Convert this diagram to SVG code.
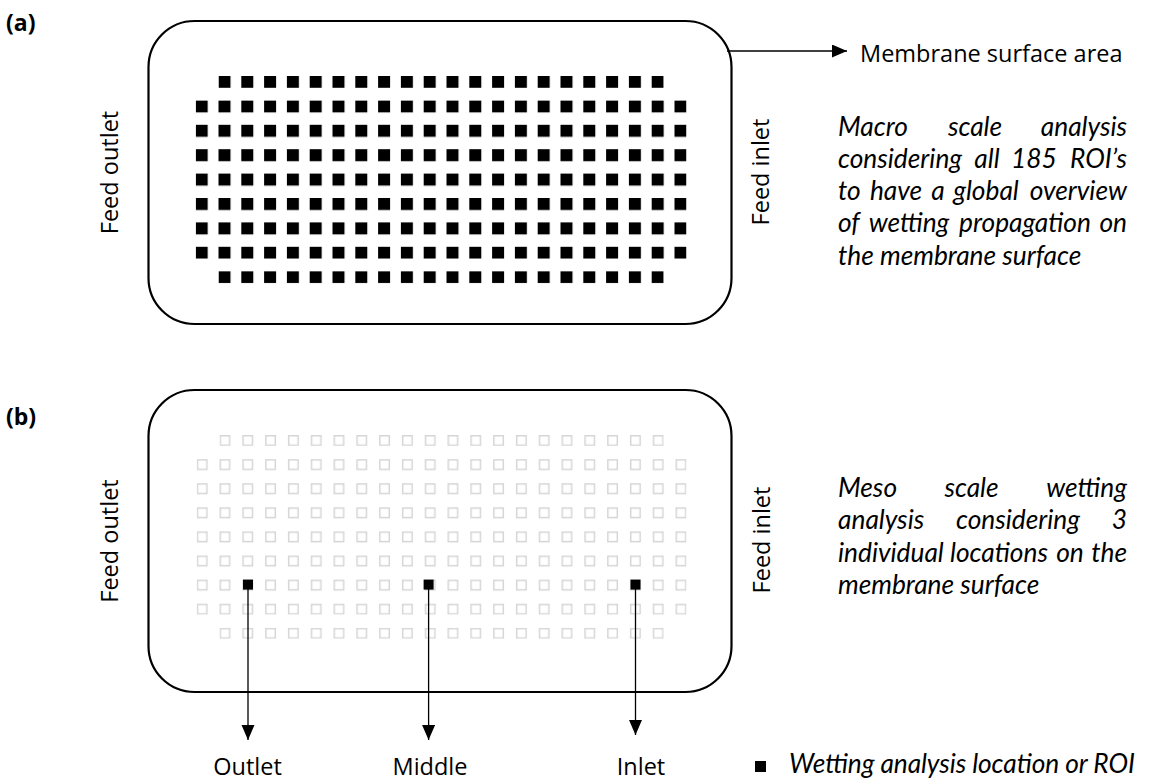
<svg xmlns="http://www.w3.org/2000/svg" width="1150" height="783" viewBox="0 0 1150 783">
  <style>
    .panel { fill: #ffffff; stroke: #000000; stroke-width: 2.2; }
    .lbl { font-family: "Open Sans", "Liberation Sans", sans-serif; font-size: 23.5px; fill: #000000; }
    .tag { font-family: "Open Sans", "Liberation Sans", sans-serif; font-size: 23px; font-weight: bold; fill: #000000; }
    .it { font-family: Lato, "Open Sans", "Liberation Sans", sans-serif; font-size: 26.3px; font-style: italic; fill: #000000; }
    .conn { stroke: #000000; stroke-width: 1.3; fill: none; }
  </style>
  <defs>
    <marker id="arrow" markerUnits="userSpaceOnUse" markerWidth="16" markerHeight="14" refX="15" refY="6.5" orient="auto">
      <path d="M0,0 L15,6.5 L0,13 z" fill="#000000"/>
    </marker>
    <pattern id="roiA" patternUnits="userSpaceOnUse" x="195.7" y="76" width="22.8" height="24.4">
      <rect x="0" y="0" width="12" height="12" fill="#000000"/>
    </pattern>
    <pattern id="roiB" patternUnits="userSpaceOnUse" x="196.7" y="435" width="22.8" height="24.1">
      <rect x="0.75" y="0.75" width="9.5" height="9.5" fill="none" stroke="#d6d6d6" stroke-width="1.5"/>
    </pattern>
  </defs>

  <rect width="1150" height="783" fill="#ffffff"/>

  <!-- Panel (a) -->
  <g id="label-a"><text class="tag" x="6" y="31">(a)</text></g>
  <g id="membrane-a">
    <rect class="panel" x="148.5" y="21" width="583" height="303" rx="46" ry="46"/>
  </g>
  <g id="roi-grid-a">
    <rect x="218.5" y="76" width="445.2" height="12" fill="url(#roiA)"/>
    <rect x="195.7" y="100.4" width="490.8" height="158.4" fill="url(#roiA)"/>
    <rect x="218.5" y="271.2" width="445.2" height="12" fill="url(#roiA)"/>
  </g>
  <g id="feed-outlet-a"><text class="lbl" text-anchor="middle" transform="translate(118,172.5) rotate(-90)">Feed outlet</text></g>
  <g id="feed-inlet-a"><text class="lbl" text-anchor="middle" transform="translate(769,172) rotate(-90)">Feed inlet</text></g>
  <g id="membrane-label"><text class="lbl" x="860" y="61.5">Membrane surface area</text></g>
  <g id="macro-text" class="it">
    <text x="838" y="135.5">Macro</text>
    <text x="975" y="135.5" text-anchor="middle">scale</text>
    <text x="1127" y="135.5" text-anchor="end">analysis</text>
    <text x="838" y="167.8">considering</text>
    <text x="987" y="167.8" text-anchor="middle">all</text>
    <text x="1034" y="167.8" text-anchor="middle">185</text>
    <text x="1127" y="167.8" text-anchor="end">ROI’s</text>
    <text x="838" y="200">to</text>
    <text x="896" y="200" text-anchor="middle">have</text>
    <text x="938" y="200" text-anchor="middle">a</text>
    <text x="986" y="200" text-anchor="middle">global</text>
    <text x="1127" y="200" text-anchor="end">overview</text>
    <text x="838" y="232.4">of</text>
    <text x="909" y="232.4" text-anchor="middle">wetting</text>
    <text x="1025" y="232.4" text-anchor="middle">propagation</text>
    <text x="1127" y="232.4" text-anchor="end">on</text>
    <text x="838" y="264.7">the membrane surface</text>
  </g>

  <!-- Panel (b) -->
  <g id="label-b"><text class="tag" x="6" y="425">(b)</text></g>
  <g id="membrane-b">
    <rect class="panel" x="148.5" y="390" width="583" height="302" rx="46" ry="46"/>
  </g>
  <g id="roi-grid-b">
    <rect x="219.5" y="435" width="444.2" height="11" fill="url(#roiB)"/>
    <rect x="196.7" y="459.1" width="489.8" height="155.6" fill="url(#roiB)"/>
    <rect x="219.5" y="627.8" width="444.2" height="11" fill="url(#roiB)"/>
  </g>
  <g id="roi-outlet"><rect x="243" y="579.6" width="10" height="10" fill="#000000"/></g>
  <g id="roi-middle"><rect x="423.6" y="579.6" width="10" height="10" fill="#000000"/></g>
  <g id="roi-inlet"><rect x="630.5" y="579.6" width="10" height="10" fill="#000000"/></g>
  <g id="feed-outlet-b"><text class="lbl" text-anchor="middle" transform="translate(118,541) rotate(-90)">Feed outlet</text></g>
  <g id="feed-inlet-b"><text class="lbl" text-anchor="middle" transform="translate(770,540) rotate(-90)">Feed inlet</text></g>
  <g id="meso-text" class="it">
    <text x="838" y="496.5">Meso</text>
    <text x="971.5" y="496.5" text-anchor="middle">scale</text>
    <text x="1127" y="496.5" text-anchor="end">wetting</text>
    <text x="838" y="529">analysis</text>
    <text x="1018" y="529" text-anchor="middle">considering</text>
    <text x="1127" y="529" text-anchor="end">3</text>
    <text x="838" y="561.5">individual</text>
    <text x="999" y="561.5" text-anchor="middle">locations</text>
    <text x="1070" y="561.5" text-anchor="middle">on</text>
    <text x="1127" y="561.5" text-anchor="end">the</text>
    <text x="838" y="594">membrane surface</text>
  </g>

  <g id="outlet-label"><text class="lbl" x="247.6" y="775" text-anchor="middle">Outlet</text></g>
  <g id="middle-label"><text class="lbl" x="430" y="775" text-anchor="middle">Middle</text></g>
  <g id="inlet-label"><text class="lbl" x="641" y="775" text-anchor="middle">Inlet</text></g>
  <g id="legend">
    <rect x="755" y="761" width="11" height="11" fill="#000000"/>
    <text class="it" x="789" y="773" textLength="346" lengthAdjust="spacing">Wetting analysis location or ROI</text>
  </g>

  <!-- Connectors -->
  <g id="connectors">
    <line class="conn" x1="727" y1="51" x2="847" y2="51" marker-end="url(#arrow)"/>
    <line class="conn" x1="248" y1="589" x2="248" y2="740" marker-end="url(#arrow)"/>
    <line class="conn" x1="428.6" y1="589" x2="428.6" y2="740" marker-end="url(#arrow)"/>
    <line class="conn" x1="635.5" y1="589" x2="635.5" y2="735" marker-end="url(#arrow)"/>
  </g>
</svg>
